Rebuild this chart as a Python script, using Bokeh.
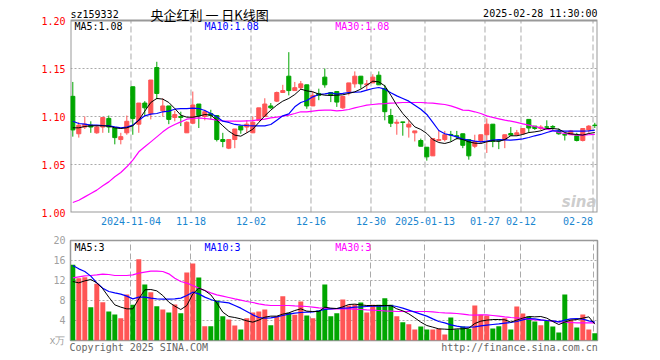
from bokeh.plotting import figure
from bokeh.layouts import column
from bokeh.models import Range1d, FixedTicker, Label, ColumnDataSource, PrintfTickFormatter
from bokeh.embed import file_html
from bokeh.resources import INLINE

# ---------------- data ----------------
tick_idx = [10, 20, 30, 40, 50, 59, 69, 75, 87]
tick_labels = ["2024-11-04", "11-18", "12-02", "12-16", "12-30", "2025-01-13", "01-27", "02-12", "02-28"]

open_ = [1.121, 1.082, 1.089, 1.091, 1.083, 1.089, 1.098, 1.088, 1.076, 1.083,
         1.131, 1.092, 1.114, 1.103, 1.151, 1.106, 1.111, 1.099, 1.100, 1.083,
         1.093, 1.113, 1.100, 1.103, 1.101, 1.076, 1.067, 1.076, 1.090, 1.089,
         1.083, 1.096, 1.100, 1.111, 1.116, 1.125, 1.142, 1.127, 1.130, 1.133,
         1.111, 1.124, 1.141, 1.125, 1.126, 1.109, 1.126, 1.134, 1.142, 1.133,
         1.135, 1.143, 1.129, 1.101, 1.093, 1.0944, 1.089, 1.083, 1.075, 1.068,
         1.059, 1.075, 1.076, 1.0813, 1.080, 1.082, 1.076, 1.069, 1.075, 1.081,
         1.092, 1.0753, 1.076, 1.0823, 1.081, 1.082, 1.097, 1.090, 1.0875, 1.0892,
         1.0896, 1.085, 1.0813, 1.081, 1.080, 1.075, 1.086, 1.091]
close = [1.086, 1.091, 1.092, 1.089, 1.089, 1.099, 1.089, 1.078, 1.079, 1.095,
         1.098, 1.114, 1.109, 1.138, 1.124, 1.111, 1.097, 1.102, 1.099, 1.094,
         1.112, 1.101, 1.105, 1.101, 1.076, 1.074, 1.076, 1.087, 1.086, 1.092,
         1.094, 1.109, 1.113, 1.109, 1.125, 1.127, 1.127, 1.130, 1.134, 1.111,
         1.122, 1.122, 1.133, 1.122, 1.115, 1.121, 1.135, 1.142, 1.134, 1.134,
         1.141, 1.133, 1.105, 1.093, 1.094, 1.0938, 1.092, 1.085, 1.069, 1.058,
         1.077, 1.076, 1.081, 1.0806, 1.079, 1.070, 1.059, 1.074, 1.081, 1.092,
         1.074, 1.0747, 1.081, 1.0806, 1.083, 1.0875, 1.088, 1.0875, 1.089, 1.0889,
         1.0889, 1.082, 1.0806, 1.085, 1.075, 1.0875, 1.090, 1.0906]
high = [1.136, 1.094, 1.100, 1.095, 1.091, 1.099, 1.101, 1.088, 1.083, 1.101,
        1.131, 1.114, 1.116, 1.138, 1.157, 1.119, 1.111, 1.106, 1.105, 1.095,
        1.126, 1.113, 1.107, 1.107, 1.101, 1.083, 1.076, 1.087, 1.090, 1.096,
        1.100, 1.109, 1.119, 1.114, 1.126, 1.133, 1.167, 1.136, 1.137, 1.133,
        1.126, 1.129, 1.150, 1.125, 1.126, 1.121, 1.135, 1.147, 1.142, 1.138,
        1.144, 1.147, 1.133, 1.108, 1.097, 1.0944, 1.096, 1.085, 1.077, 1.068,
        1.077, 1.086, 1.085, 1.085, 1.085, 1.082, 1.076, 1.081, 1.081, 1.098,
        1.092, 1.0753, 1.081, 1.089, 1.086, 1.088, 1.097, 1.090, 1.091, 1.096,
        1.091, 1.0875, 1.082, 1.086, 1.083, 1.0875, 1.091, 1.0934]
low = [1.079, 1.078, 1.087, 1.083, 1.082, 1.083, 1.083, 1.071, 1.071, 1.081,
       1.081, 1.083, 1.100, 1.097, 1.118, 1.100, 1.092, 1.095, 1.090, 1.083,
       1.092, 1.088, 1.096, 1.097, 1.074, 1.068, 1.066, 1.067, 1.082, 1.083,
       1.083, 1.096, 1.100, 1.108, 1.115, 1.125, 1.122, 1.127, 1.128, 1.108,
       1.111, 1.117, 1.130, 1.115, 1.110, 1.108, 1.122, 1.130, 1.129, 1.127,
       1.135, 1.133, 1.096, 1.089, 1.081, 1.080, 1.078, 1.074, 1.069, 1.054,
       1.059, 1.074, 1.074, 1.074, 1.076, 1.067, 1.055, 1.067, 1.072, 1.062,
       1.068, 1.066, 1.067, 1.080, 1.080, 1.082, 1.083, 1.086, 1.086, 1.086,
       1.086, 1.081, 1.075, 1.081, 1.074, 1.074, 1.083, 1.088]

ma5 = [1.0882, 1.0882, 1.0896, 1.0903, 1.0903, 1.0903, 1.0900, 1.0882, 1.0875, 1.0882,
       1.0903, 1.0962, 1.1056, 1.1146, 1.1188, 1.1181, 1.1146, 1.1083, 1.1014, 1.0993,
       1.0993, 1.1003, 1.1021, 1.1014, 1.0962, 1.0903, 1.0847, 1.0806, 1.0795, 1.0830,
       1.0868, 1.0938, 1.1007, 1.1066, 1.1118, 1.1160, 1.1188, 1.1229, 1.1285, 1.1267,
       1.1257, 1.1233, 1.1222, 1.1219, 1.1222, 1.1226, 1.1240, 1.1257, 1.1285, 1.1326,
       1.1368, 1.1361, 1.1319, 1.1222, 1.1118, 1.1031, 1.0962, 1.0892, 1.0865, 1.0823,
       1.0760, 1.0729, 1.0719, 1.0736, 1.0771, 1.0760, 1.0736, 1.0722, 1.0719, 1.0736,
       1.0747, 1.0740, 1.0760, 1.0799, 1.0799, 1.0813, 1.0833, 1.0840, 1.0851, 1.0875,
       1.0875, 1.0868, 1.0833, 1.0819, 1.0813, 1.0806, 1.0823, 1.0833]
ma10 = [1.0951, 1.0927, 1.0920, 1.0910, 1.0910, 1.0906, 1.0903, 1.0892, 1.0882, 1.0889,
        1.0910, 1.0962, 1.1007, 1.1024, 1.1031, 1.1049, 1.1056, 1.1076, 1.1083, 1.1083,
        1.1087, 1.1083, 1.1063, 1.1031, 1.0997, 1.0951, 1.0938, 1.0917, 1.0910, 1.0906,
        1.0903, 1.0903, 1.0903, 1.0917, 1.0962, 1.1007, 1.1028, 1.1101, 1.1146, 1.1167,
        1.1205, 1.1229, 1.1236, 1.1247, 1.1233, 1.1240, 1.1250, 1.1253, 1.1257, 1.1274,
        1.1292, 1.1302, 1.1285, 1.1247, 1.1215, 1.1188, 1.1160, 1.1118, 1.1076, 1.1021,
        1.0938, 1.0854, 1.0820, 1.0806, 1.0788, 1.0764, 1.0753, 1.0743, 1.0736, 1.0743,
        1.0753, 1.0760, 1.0757, 1.0753, 1.0760, 1.0767, 1.0781, 1.0799, 1.0813, 1.0833,
        1.0851, 1.0851, 1.0847, 1.0847, 1.0847, 1.0847, 1.0851, 1.0858]
ma30 = [1.0104, 1.0128, 1.0163, 1.0198, 1.0233, 1.0278, 1.0319, 1.0372, 1.0417, 1.0476,
        1.0545, 1.0632, 1.0684, 1.0736, 1.0788, 1.0840, 1.0885, 1.0917, 1.0944, 1.0972,
        1.0979, 1.0986, 1.0979, 1.0972, 1.0962, 1.0955, 1.0951, 1.0951, 1.0951, 1.0955,
        1.0958, 1.0965, 1.0972, 1.0986, 1.0993, 1.1003, 1.1014, 1.1031, 1.1049, 1.1049,
        1.1056, 1.1063, 1.1066, 1.1066, 1.1059, 1.1063, 1.1073, 1.1090, 1.1104, 1.1118,
        1.1125, 1.1132, 1.1135, 1.1139, 1.1142, 1.1146, 1.1146, 1.1146, 1.1146, 1.1142,
        1.1139, 1.1132, 1.1125, 1.1111, 1.1090, 1.1066, 1.1063, 1.1049, 1.1031, 1.1007,
        1.0990, 1.0976, 1.0962, 1.0951, 1.0938, 1.0924, 1.0910, 1.0896, 1.0882, 1.0868,
        1.0854, 1.0833, 1.0823, 1.0813, 1.0806, 1.0806, 1.0810, 1.0813]

vol = [15.13, 12.47, 12.67, 6.67, 11.33, 7.67, 5.8, 5.2, 4.47, 9.2,
       7.13, 16.27, 11.2, 9.67, 6.87, 6.2, 5.6, 7.2, 5.47, 13.6,
       15.4, 12.6, 2.87, 2.87, 8.0, 4.87, 4.2, 3.0, 2.2, 4.47,
       5.6, 5.8, 6.2, 3.07, 4.87, 8.87, 5.53, 5.13, 7.8, 5.0,
       4.47, 6.0, 11.2, 4.87, 5.47, 8.2, 7.0, 7.2, 7.6, 5.6,
       7.13, 7.13, 8.47, 7.13, 4.87, 3.67, 3.27, 2.2, 2.8, 2.2,
       2.2, 2.33, 1.2, 4.6, 2.27, 2.8, 2.33, 7.0, 5.13, 5.0,
       2.4, 2.87, 4.47, 2.2, 6.8, 5.4, 4.8, 3.8, 3.07, 3.93,
       2.8, 1.6, 9.2, 4.2, 2.6, 5.2, 2.2, 1.47]
vma5 = [11.8, 11.53, 11.93, 12.2, 11.53, 10.33, 8.67, 7.13, 6.67, 6.33,
        6.33, 8.33, 10.13, 10.2, 9.93, 9.0, 7.67, 6.87, 6.2, 7.0,
        9.33, 10.47, 10.0, 9.13, 7.53, 5.67, 4.8, 4.6, 4.33, 3.93,
        3.67, 4.07, 4.67, 4.87, 4.87, 5.27, 5.53, 6.0, 6.33, 5.87,
        5.8, 5.8, 6.67, 6.47, 6.4, 6.73, 7.2, 7.27, 7.13, 7.0,
        7.0, 7.0, 7.0, 7.0, 6.33, 5.93, 5.33, 4.53, 3.67, 3.0,
        2.67, 2.33, 2.27, 2.2, 2.33, 2.33, 2.47, 3.4, 3.87, 4.07,
        4.2, 4.2, 4.13, 3.67, 4.07, 4.47, 4.8, 4.73, 4.8, 4.47,
        3.8, 3.2, 3.67, 4.07, 4.2, 4.47, 4.73, 3.27]
vma10 = [15.0, 14.33, 13.8, 12.87, 11.53, 10.47, 9.8, 9.53, 9.27, 8.87,
         8.33, 8.67, 8.67, 8.47, 8.33, 8.27, 8.27, 8.33, 8.47, 9.0,
         9.67, 9.33, 8.67, 8.2, 7.8, 7.67, 7.53, 7.0, 6.47, 5.8,
         5.13, 4.6, 4.47, 4.53, 4.73, 5.0, 5.27, 5.47, 5.6, 5.67,
         5.73, 5.93, 6.2, 6.33, 6.4, 6.47, 6.53, 6.67, 6.73, 6.8,
         6.87, 6.87, 6.93, 7.0, 6.8, 6.47, 6.07, 5.67, 5.27, 4.87,
         4.33, 3.8, 3.53, 3.13, 2.87, 2.67, 2.67, 2.73, 2.93, 3.07,
         3.2, 3.33, 3.47, 3.6, 3.8, 4.13, 4.4, 4.33, 4.13, 4.0,
         3.93, 3.73, 4.07, 4.33, 4.4, 4.27, 3.93, 3.67]
vma30 = [12.53, 12.73, 12.93, 13.0, 13.13, 13.27, 13.2, 13.0, 13.0, 13.0,
         13.13, 13.47, 13.67, 13.87, 13.87, 13.8, 13.33, 12.47, 11.8, 11.47,
         11.0, 10.47, 10.0, 9.53, 9.13, 8.87, 8.6, 8.33, 8.07, 7.8,
         7.6, 7.33, 7.13, 7.0, 7.0, 7.0, 7.0, 6.93, 6.87, 6.8,
         6.67, 6.53, 6.47, 6.33, 6.33, 6.33, 6.33, 6.27, 6.2, 6.13,
         6.07, 6.0, 5.93, 5.87, 5.8, 5.8, 5.8, 5.8, 5.8, 5.8,
         5.73, 5.6, 5.53, 5.47, 5.4, 5.27, 5.13, 5.07, 5.13, 5.13,
         5.0, 4.87, 4.73, 4.6, 4.53, 4.4, 4.27, 4.13, 4.07, 4.0,
         3.87, 3.73, 3.67, 3.6, 3.53, 3.53, 3.53, 3.53]

# ---------------- styling ----------------
UP = "#ff5555"
DOWN = "#00a600"
MONO = "DejaVu Sans Mono"
GRID = "#aaaaaa"
FRAME = "#999999"
W = 660
BL, BR = 70, 63
P_LO, P_HI = 1.0, 1.2
HEAD_PX = 20                      # header strip height, inside the upper plot area
PX = (P_HI - P_LO) / 192          # price units per pixel in the upper panel

n = len(close)
idx = list(range(n))
colors = [UP if c > o else DOWN for o, c in zip(open_, close)]
src = ColumnDataSource(dict(
    x=idx, open=open_, close=close, high=high, low=low,
    top=[max(o, c) for o, c in zip(open_, close)],
    bottom=[min(o, c) for o, c in zip(open_, close)],
    color=colors, vol=vol,
    ma5=ma5, ma10=ma10, ma30=ma30, vma5=vma5, vma10=vma10, vma30=vma30,
))

X0, X1 = -0.383, 87.45
xr = Range1d(X0, X1)
grid_ticks = [t - 0.3 for t in tick_idx]
overrides = {g: l for g, l in zip(grid_ticks, tick_labels)}
overrides[grid_ticks[-1]] = tick_labels[-1] + "\u00a0" * 5


def style_axes(fig):
    fig.background_fill_color = "white"
    fig.border_fill_color = "white"
    for ax in fig.axis:
        ax.axis_line_color = None
        ax.major_tick_line_color = None
        ax.minor_tick_line_color = None
        ax.major_tick_out = 0
        ax.major_tick_in = 0
        ax.minor_tick_out = 0
        ax.minor_tick_in = 0
        ax.major_label_text_font = MONO
        ax.major_label_text_font_size = "10px"
    fig.ygrid.grid_line_color = GRID
    fig.ygrid.grid_line_dash = "2 2"


def lab(fig, x, y, text, color="#000000", align="left", font=MONO, size="10px", **kw):
    fig.add_layout(Label(x=x, y=y, text=text, text_font=font, text_font_size=size,
                         text_color=color, text_align=align, text_baseline="alphabetic", **kw))


# ---------------- upper: K-line (plot area includes the header strip) ----------------
p1 = figure(width=W, height=232, x_range=xr, y_range=Range1d(P_LO, P_HI + HEAD_PX * PX),
            output_backend="svg", toolbar_location=None,
            min_border_left=BL, min_border_right=BR, min_border_top=0, min_border_bottom=20)
style_axes(p1)
p1.outline_line_color = None
p1.xgrid.visible = False
p1.yaxis.ticker = FixedTicker(ticks=[1.0, 1.05, 1.10, 1.15, 1.20])
p1.yaxis.formatter = PrintfTickFormatter(format="%.2f")
p1.yaxis.major_label_text_color = "#ff0000"
p1.yaxis.major_label_standoff = 5
p1.xaxis.ticker = FixedTicker(ticks=grid_ticks)
p1.xaxis.major_label_overrides = overrides
p1.xaxis.major_label_text_color = "#1a86d0"
p1.xaxis.major_label_standoff = 3
p1.ygrid.ticker = FixedTicker(ticks=[1.05, 1.10, 1.15])

# dashed date lines and the panel frame (price panel only)
p1.segment(x0=grid_ticks, y0=[P_LO] * len(grid_ticks), x1=grid_ticks, y1=[P_HI] * len(grid_ticks),
           line_color=GRID, line_width=1, line_dash="6 3")
p1.quad(left=[X0], right=[X1], bottom=[P_LO], top=[P_HI], fill_color=None,
        line_color=FRAME, line_width=2)

p1.segment(x0="x", y0="low", x1="x", y1="high", color="color", line_width=1, source=src)
p1.vbar(x="x", top="top", bottom="bottom", width=0.68, fill_color="color",
        line_color="color", line_width=1, source=src)
p1.line("x", "ma30", color="#ff00ff", line_width=1.2, source=src)
p1.line("x", "ma10", color="#0000ff", line_width=1.2, source=src)
p1.line("x", "ma5", color="#000000", line_width=1, source=src)

# header row
lab(p1, X0, P_HI + 6.5 * PX, "sz159332")
lab(p1, 12.95, P_HI + 6.5 * PX, "央企红利 一 日K线图", font="Noto Sans CJK SC", size="13px")
lab(p1, X1, P_HI + 6.8 * PX, "2025-02-28 11:30:00", align="right")

Y_LEG1 = P_HI - 5.8 * PX
for xx, txt, col in [(0.28, "MA5:1.08", "#000000"), (21.95, "MA10:1.08", "#0000ff"),
                     (43.73, "MA30:1.08", "#ff00ff")]:
    lab(p1, xx, Y_LEG1, txt, color=col)
lab(p1, 87.3, P_LO + 10.5 * PX, "sina", color="#c4c4c4", align="right", font="DejaVu Sans",
    size="15px", text_font_style="bold italic", text_alpha=0.85)

# ---------------- lower: volume ----------------
footer_ticks = [11.0, 74.45]
footer_labels = ["Copyright 2025 SINA.COM", "http://finance.sina.com.cn"]

p2 = figure(width=W, height=128, x_range=xr, y_range=Range1d(0, 20),
            output_backend="svg", toolbar_location=None,
            min_border_left=BL, min_border_right=BR, min_border_top=8, min_border_bottom=20)
style_axes(p2)
p2.outline_line_color = FRAME
p2.outline_line_width = 1.5
p2.xgrid.ticker = FixedTicker(ticks=grid_ticks)
p2.xgrid.grid_line_color = GRID
p2.xgrid.grid_line_dash = "6 3"
p2.xaxis.ticker = FixedTicker(ticks=footer_ticks)
p2.xaxis.major_label_overrides = {t: l for t, l in zip(footer_ticks, footer_labels)}
p2.xaxis.major_label_text_color = "#666666"
p2.xaxis.major_label_standoff = 1
p2.yaxis.ticker = FixedTicker(ticks=[0, 4, 8, 12, 16, 20])
p2.yaxis.major_label_overrides = {0: "x万"}
p2.yaxis.major_label_text_color = "#a0a0a0"
p2.yaxis.major_label_standoff = 5
p2.ygrid.ticker = FixedTicker(ticks=[4, 8, 12, 16])

p2.vbar(x="x", top="vol", bottom=0, width=0.83, fill_color="color", line_color=None, source=src)
p2.line("x", "vma30", color="#ff00ff", line_width=1.2, source=src)
p2.line("x", "vma10", color="#0000ff", line_width=1.2, source=src)
p2.line("x", "vma5", color="#000000", line_width=1, source=src)

Y_LEG2 = 18.7
for xx, txt, col in [(0.28, "MA5:3", "#000000"), (21.95, "MA10:3", "#0000ff"),
                     (43.73, "MA30:3", "#ff00ff")]:
    lab(p2, xx, Y_LEG2, txt, color=col)

layout = column(p1, p2, spacing=0)
open("out.html", "w").write(file_html(layout, INLINE))
